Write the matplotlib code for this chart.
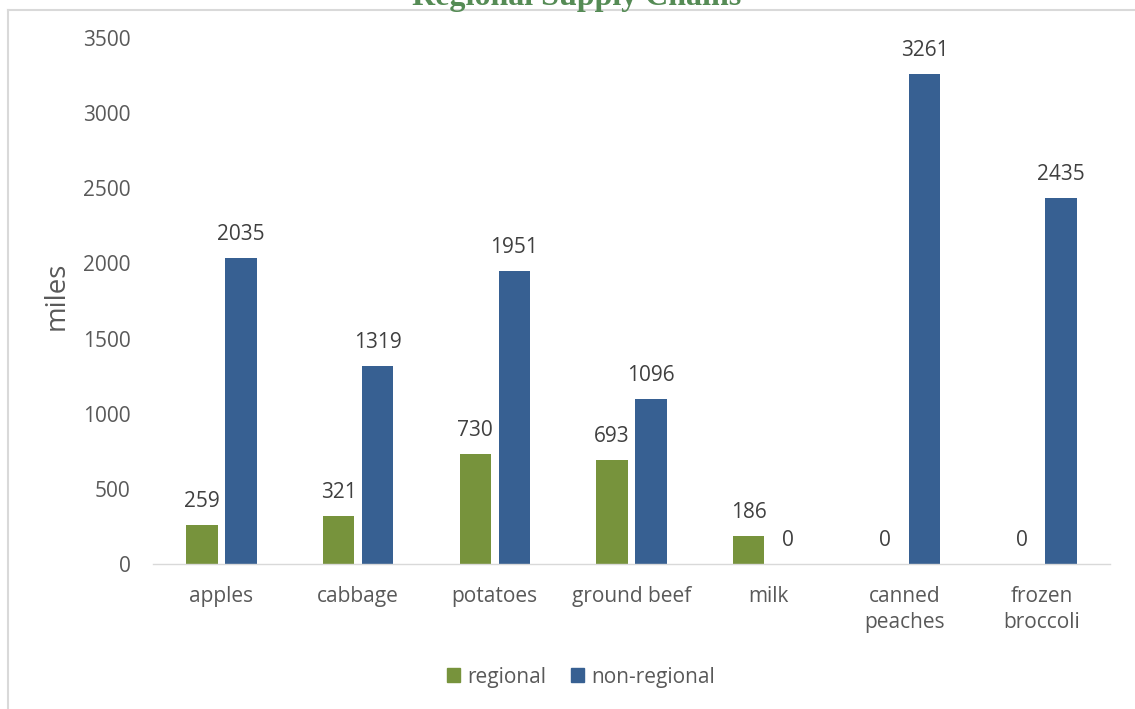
import matplotlib.pyplot as plt
import numpy as np
from matplotlib.lines import Line2D
from matplotlib.patches import Patch

# Data
foods = ["apples", "cabbage", "potatoes", "ground beef", "milk",
         "canned\npeaches", "frozen\nbroccoli"]
regional = [259, 321, 730, 693, 186, 0, 0]
non_regional = [2035, 1319, 1951, 1096, 0, 3261, 2435]
yticks = [0, 500, 1000, 1500, 2000, 2500, 3000, 3500]

green = "#77933C"
blue = "#376092"
grey_text = "#595959"

plt.rcParams['font.family'] = ['Open Sans', 'DejaVu Sans']

fig = plt.figure(figsize=(11.35, 7.09), dpi=100)
ax = fig.add_axes([153 / 1135, 1 - 564 / 709, 957 / 1135, 526 / 709])

x = np.arange(len(foods))
w = 0.23
off = 0.143
b1 = ax.bar(x - off, regional, w, color=green, label="regional")
b2 = ax.bar(x + off, non_regional, w, color=blue, label="non-regional")

# Value labels above each bar
for bars, vals in ((b1, regional), (b2, non_regional)):
    for bar, v in zip(bars, vals):
        ax.annotate(str(v), (bar.get_x() + bar.get_width() / 2, v),
                    xytext=(0, 13), textcoords="offset points",
                    ha="center", va="baseline", fontsize=15, color="#404040")

ax.set_xlim(-0.5, len(foods) - 0.5)
ax.set_ylim(0, 3500)
ax.set_yticks(yticks)
ax.set_xticks(x)
ax.set_xticklabels(foods, linespacing=1.32)
ax.tick_params(axis="both", length=0, labelsize=15, colors=grey_text)
ax.tick_params(axis="y", pad=16)
ax.tick_params(axis="x", pad=16)

for side in ("top", "right", "left"):
    ax.spines[side].set_visible(False)
ax.spines["bottom"].set_color("#D9D9D9")
ax.spines["bottom"].set_linewidth(1)

fig.text(57 / 1135, 1 - 296 / 709, "miles", rotation=90, ha="center",
         va="center", fontsize=20, color=grey_text)

# Title (runs off the top edge)
fig.text(577 / 1135, 1 - 5 / 709, "Regional Supply Chains", ha="center",
         va="baseline", fontsize=23, fontweight="bold",
         family="Liberation Serif", color="#558B55")

# Chart frame edges
fig.add_artist(Line2D([8 / 1135, 8 / 1135], [0, 1 - 10 / 709],
                      transform=fig.transFigure, color="#D9D9D9", lw=1.5))
fig.add_artist(Line2D([8 / 1135, 1], [1 - 10 / 709, 1 - 10 / 709],
                      transform=fig.transFigure, color="#D9D9D9", lw=1.5))

handles = [Patch(color=green), Patch(color=blue)]
fig.legend(handles, ["regional", "non-regional"], loc="center",
           bbox_to_anchor=(581 / 1135, 1 - 677 / 709), ncol=2, frameon=False,
           fontsize=15, labelcolor=grey_text, handlelength=0.62,
           handleheight=0.62, handletextpad=0.35, columnspacing=1.15)

fig.savefig("out.png", dpi=100, facecolor="white")
